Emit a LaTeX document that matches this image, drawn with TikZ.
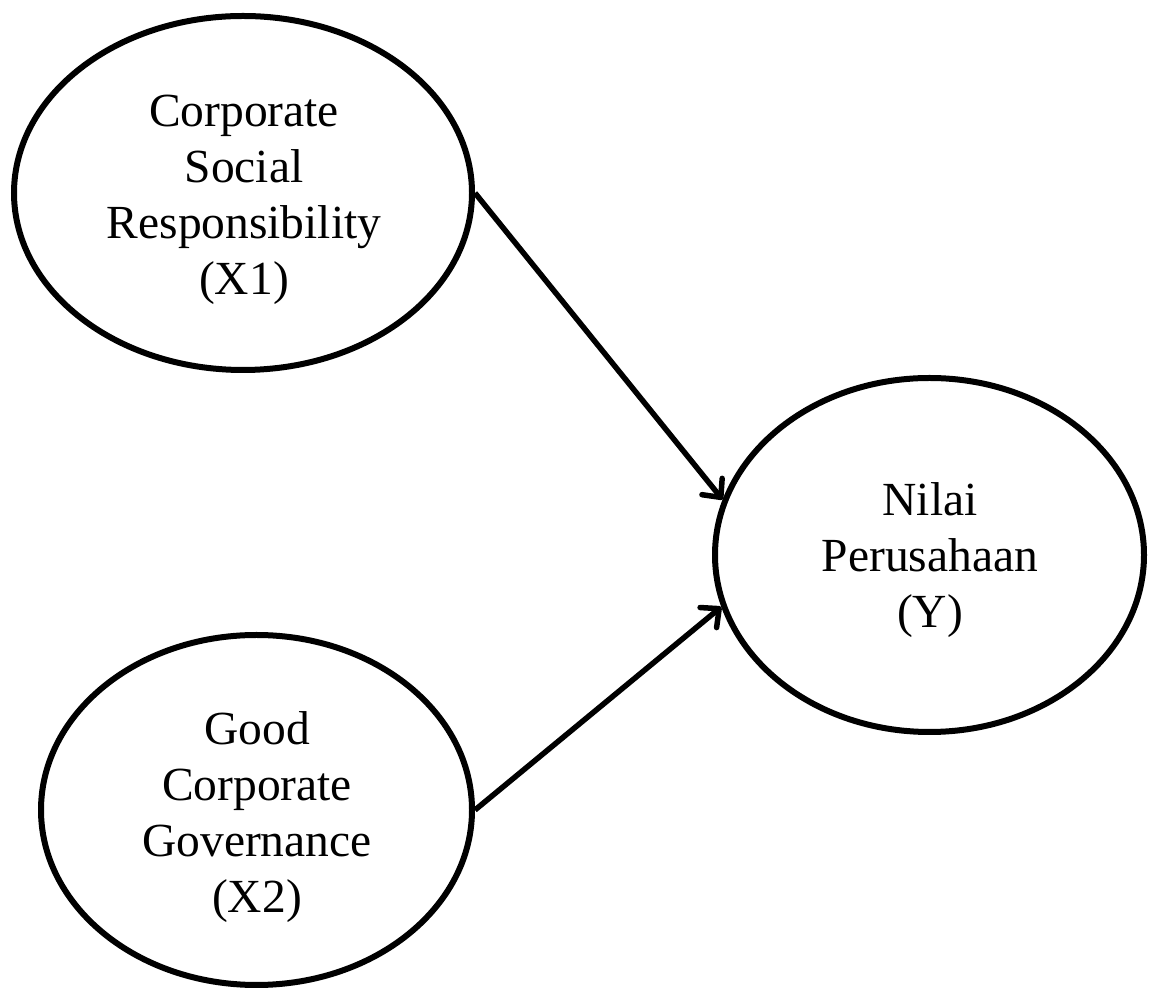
\documentclass[tikz,border=0pt]{standalone}
\usepackage{fontspec}
\setmainfont{Liberation Serif}
\usetikzlibrary{shapes.geometric,arrows.meta}
\begin{document}
\begin{tikzpicture}[x=1pt,y=1pt,
  var/.style={ellipse,draw=black,line width=6pt,inner sep=0pt},
  lbl/.style={align=center,font=\fontsize{47.5}{56}\selectfont,inner sep=0pt},
  link/.style={line width=5.5pt,-{Straight Barb[length=14pt,width=26pt,round]}}]
\useasboundingbox (0,0) rectangle (1157,990);
\node[var,minimum width=458pt,minimum height=354pt] (e1) at (243,797) {};
\node[var,minimum width=431pt,minimum height=350pt] (e2) at (256.5,180) {};
\node[var,minimum width=429pt,minimum height=354pt] (ey) at (929.5,435) {};
\node[lbl] (t1) at (244,790.5) {Corporate\\Social\\Responsibility\\(X1)};
\node[lbl] (t2) at (257,172.5) {Good\\Corporate\\Governance\\(X2)};
\node[lbl] (t3) at (930,430) {Nilai\\Perusahaan\\(Y)};
\draw[link] (e1.east) -- (ey.165);
\draw[link] (e2.east) -- (ey.194);
\end{tikzpicture}
\end{document}
